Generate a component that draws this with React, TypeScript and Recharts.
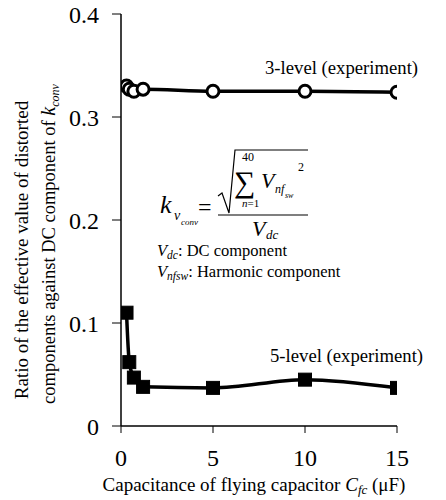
import React from "react";
import { LineChart, Line, XAxis, YAxis } from "recharts";

// Flying-capacitor capacitance (µF) for each measurement
const capacitance3Level = [0.3, 0.45, 0.7, 1.2, 5, 10, 15];
const ratio3Level = [0.33, 0.327, 0.325, 0.327, 0.325, 0.325, 0.324];

const capacitance5Level = [0.3, 0.45, 0.7, 1.2, 5, 10, 15];
const ratio5Level = [0.11, 0.062, 0.047, 0.038, 0.037, 0.045, 0.037];

const xTicks = [0, 5, 10, 15];
const yTicks = [0, 0.1, 0.2, 0.3, 0.4];

const level3 = capacitance3Level.map((x, i) => ({ x, y: ratio3Level[i] }));
const level5 = capacitance5Level.map((x, i) => ({ x, y: ratio5Level[i] }));

const W = 446;
const H = 500;
const FONT = "Liberation Serif";
const serif = { fontFamily: FONT };

const SquareDot = (props: any) => {
  const { cx, cy, index } = props;
  if (cx == null || cy == null) return <g key={`sq-${index}`} />;
  return (
    <rect
      key={`sq-${index}`}
      x={cx - 6.5}
      y={cy - 6.5}
      width={13}
      height={13}
      fill="#000"
      stroke="#000"
      strokeWidth={1}
    />
  );
};

const tickStyle = { fontSize: 24, fill: "#000", style: serif };

// Plain SVG text in the serif face
const T = (props: any) => <text {...props} style={serif} />;

export default function App() {
  return (
    <div style={{ position: "absolute", left: 0, top: 0, width: W, height: H, background: "#fff" }}>
      <LineChart width={W} height={H} margin={{ top: 14, right: 49, bottom: 0, left: 0 }}>
        <XAxis
          type="number"
          dataKey="x"
          domain={[0, 15]}
          ticks={xTicks}
          allowDataOverflow
          height={74}
          tickSize={7}
          tickMargin={16}
          tick={tickStyle}
          stroke="#000"
          axisLine={{ stroke: "#000", strokeWidth: 1.5 }}
          tickLine={{ stroke: "#000" }}
        />
        <YAxis
          type="number"
          dataKey="y"
          domain={[0, 0.4]}
          ticks={yTicks}
          allowDataOverflow
          width={121}
          tickSize={9}
          tickMargin={13}
          tick={tickStyle}
          tickFormatter={(v: number) => (v === 0 ? "0" : String(v))}
          stroke="#000"
          axisLine={{ stroke: "#000", strokeWidth: 1.5 }}
          tickLine={{ stroke: "#000" }}
        />
        <Line
          data={level3}
          dataKey="y"
          type="monotone"
          stroke="#000"
          strokeWidth={3.5}
          dot={{ r: 6, fill: "#fff", stroke: "#000", strokeWidth: 3 }}
          isAnimationActive={false}
        />
        <Line
          data={level5}
          dataKey="y"
          type="monotone"
          stroke="#000"
          strokeWidth={3.5}
          dot={SquareDot}
          isAnimationActive={false}
        />
      </LineChart>

      <svg
        width={W}
        height={H}
        style={{ position: "absolute", left: 0, top: 0, pointerEvents: "none" }}
        fill="#000"
      >
        {/* series labels */}
        <T x={265} y={74} fontSize={18.7}>3-level (experiment)</T>
        <T x={270} y={362} fontSize={18.7}>5-level (experiment)</T>

        {/* y-axis title, two lines */}
        <T transform="translate(28,250) rotate(-90)" textAnchor="middle" fontSize={19}>
          Ratio of the effective value of distorted
        </T>
        <T transform="translate(55,244) rotate(-90)" textAnchor="middle" fontSize={18.5}>
          components against DC component of{" "}
          <tspan fontStyle="italic" fontSize={20}>k</tspan>
          <tspan fontStyle="italic" fontSize={12} dy={4}>conv</tspan>
        </T>

        {/* x-axis title */}
        <T x={254} y={491} textAnchor="middle" fontSize={19}>
          Capacitance of flying capacitor{" "}
          <tspan fontStyle="italic">C</tspan>
          <tspan fontStyle="italic" fontSize={13} dy={3}>fc</tspan>
          <tspan dy={-3}> (μF)</tspan>
        </T>

        {/* k_v_conv formula */}
        <T x={160} y={213} fontSize={26} fontStyle="italic">k</T>
        <T x={174} y={220} fontSize={14} fontStyle="italic">v</T>
        <T x={181} y={225} fontSize={9} fontStyle="italic">conv</T>
        <T x={198} y={215} fontSize={24}>=</T>
        <path
          d="M218,196 L222,193 L229,213 L235,150 L308,150"
          fill="none"
          stroke="#000"
          strokeWidth={1.2}
        />
        <T x={242} y={161} fontSize={12}>40</T>
        <T x={234} y={192} fontSize={30}>∑</T>
        <T x={242} y={207} fontSize={11}>
          <tspan fontStyle="italic">n</tspan>=1
        </T>
        <T x={261} y={188} fontSize={22} fontStyle="italic">V</T>
        <T x={275} y={193} fontSize={12} fontStyle="italic">nf</T>
        <T x={285} y={198} fontSize={8} fontStyle="italic">sw</T>
        <T x={298} y={171} fontSize={12}>2</T>
        <line x1={218} y1={215} x2={308} y2={215} stroke="#000" strokeWidth={1.2} />
        <T x={252} y={236} fontSize={22} fontStyle="italic">V</T>
        <T x={266} y={239} fontSize={13} fontStyle="italic">dc</T>

        <T x={157} y={256} fontSize={16.5}>
          <tspan fontStyle="italic">V</tspan>
          <tspan fontStyle="italic" fontSize={11.5} dy={3}>dc</tspan>
          <tspan dy={-3}>: DC component</tspan>
        </T>
        <T x={157} y={277} fontSize={16.5}>
          <tspan fontStyle="italic">V</tspan>
          <tspan fontStyle="italic" fontSize={11.5} dy={3}>nfsw</tspan>
          <tspan dy={-3}>: Harmonic component</tspan>
        </T>
      </svg>
    </div>
  );
}
